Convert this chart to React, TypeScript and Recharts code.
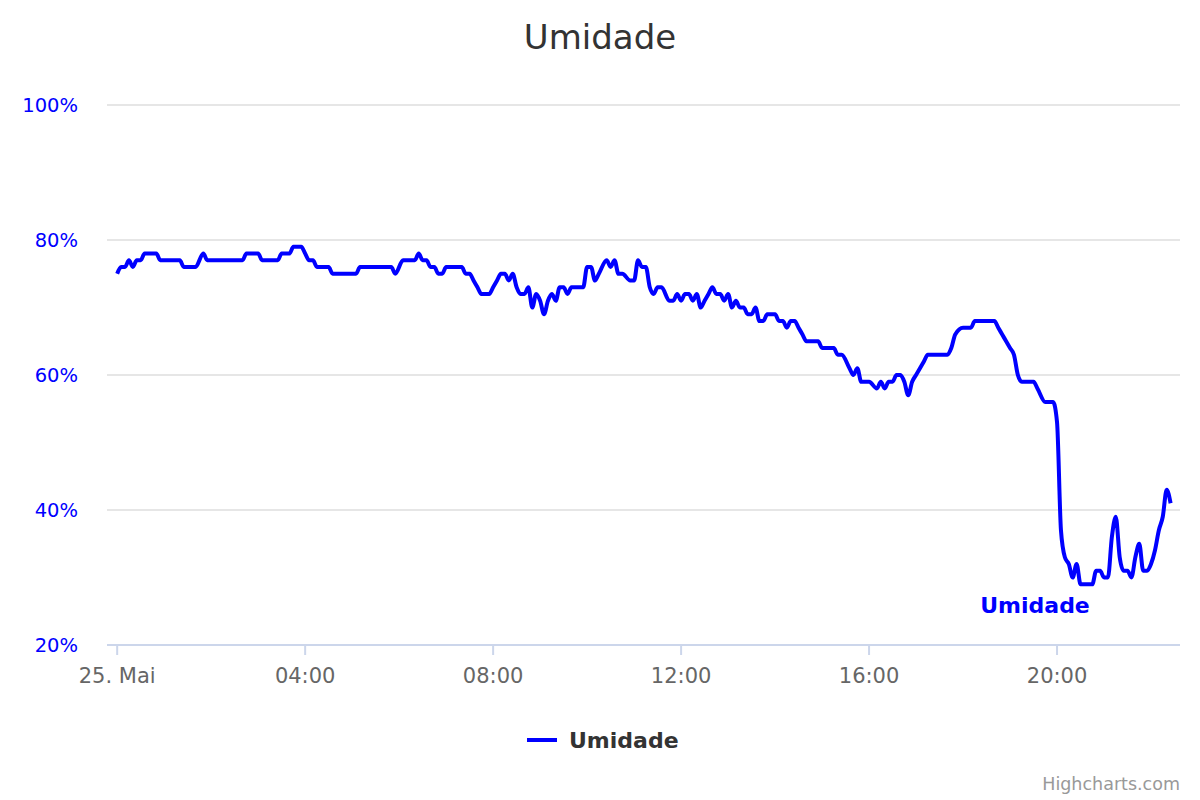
import React from 'react';
import { LineChart, Line, XAxis, YAxis, CartesianGrid } from 'recharts';

// minutes since 25. Mai 00:00
const minutes = [
  0, 5, 10, 15, 20, 25, 30, 35, 50, 55, 80, 85, 100, 110, 115, 160, 165, 180, 185, 205,
  210, 220, 225, 235, 240, 245, 250, 255, 270, 275, 305, 310, 350, 355, 365, 380, 385, 390, 395, 400,
  405, 410, 415, 420, 440, 445, 450, 455, 460, 465, 475, 480, 485, 490, 495, 500, 505, 510, 515, 520,
  525, 530, 535, 540, 545, 550, 555, 560, 565, 570, 575, 580, 595, 600, 605, 610, 615, 625, 630, 635,
  640, 645, 655, 660, 665, 670, 675, 680, 685, 690, 695, 705, 710, 715, 720, 725, 730, 735, 740, 745,
  750, 755, 760, 765, 770, 775, 780, 785, 790, 795, 800, 805, 810, 815, 820, 825, 830, 840, 845, 850,
  855, 860, 865, 870, 875, 880, 895, 900, 915, 920, 925, 935, 940, 945, 950, 960, 970, 975, 980, 985,
  990, 995, 1000, 1005, 1010, 1015, 1020, 1025, 1030, 1035, 1060, 1065, 1070, 1080, 1090, 1095, 1120, 1125, 1130, 1135,
  1140, 1145, 1150, 1155, 1170, 1175, 1185, 1195, 1200, 1205, 1210, 1215, 1220, 1225, 1230, 1245, 1250, 1255, 1260, 1265,
  1270, 1275, 1280, 1285, 1290, 1295, 1300, 1305, 1310, 1315, 1320, 1325, 1330, 1335, 1340, 1345,
];

const humidity = [
  75, 76, 76, 77, 76, 77, 77, 78, 78, 77, 77, 76, 76, 78, 77, 77, 78, 78, 77, 77,
  78, 78, 79, 79, 78, 77, 77, 76, 76, 75, 75, 76, 76, 75, 77, 77, 78, 77, 77, 76,
  76, 75, 75, 76, 76, 75, 75, 74, 73, 72, 72, 73, 74, 75, 75, 74, 75, 73, 72, 72,
  73, 70, 72, 71, 69, 71, 72, 71, 73, 73, 72, 73, 73, 76, 76, 74, 75, 77, 76, 77,
  75, 75, 74, 74, 77, 76, 76, 73, 72, 73, 73, 71, 71, 72, 71, 72, 72, 71, 72, 70,
  71, 72, 73, 72, 72, 71, 72, 70, 71, 70, 70, 69, 69, 70, 68, 68, 69, 69, 68, 68,
  67, 68, 68, 67, 66, 65, 65, 64, 64, 63, 63, 61, 60, 61, 59, 59, 58, 59, 58, 59,
  59, 60, 60, 59, 57, 59, 60, 61, 62, 63, 63, 64, 66, 67, 67, 68, 68, 67, 66, 65,
  64, 63, 60, 59, 59, 58, 56, 56, 53, 37, 33, 32, 30, 32, 29, 29, 31, 31, 30, 30,
  36, 39, 33, 31, 31, 30, 33, 35, 31, 31, 32, 34, 37, 39, 43, 41,
];

const xTicks = [0, 240, 480, 720, 960, 1200];
const yTicks = [20, 40, 60, 80, 100];

const data = minutes.map((t, i) => ({ t, umidade: humidity[i] }));

const pad = (n: number) => String(n).padStart(2, '0');
const fmtTime = (m: number) => (m === 0 ? '25. Mai' : `${pad(Math.floor(m / 60))}:${pad(m % 60)}`);

const BLUE = '#0000ff';

export default function App() {
  return (
    <div style={{ position: 'absolute', left: 0, top: 0, width: 1200, height: 800, background: '#fff', fontFamily: '"DejaVu Sans", sans-serif' }}>
      <LineChart width={1200} height={800} data={data} margin={{ top: 105, right: 20, bottom: 115, left: 0 }}>
        <CartesianGrid vertical={false} stroke="#e6e6e6" strokeWidth={2} />
        <XAxis
          dataKey="t"
          type="number"
          domain={[-13, 1357]}
          ticks={xTicks}
          tickFormatter={fmtTime}
          height={40}
          stroke="#ccd6eb"
          strokeWidth={2}
          tickSize={10}
          tickMargin={13}
          tick={{ fill: '#666666', fontSize: 21 }}
        />
        <YAxis
          domain={[20, 100]}
          ticks={yTicks}
          tickFormatter={(v: number) => `${v}%`}
          width={107}
          axisLine={false}
          tickLine={false}
          tickSize={0}
          tickMargin={29}
          tick={{ fill: BLUE, fontSize: 19.5 }}
        />
        <Line
          type="monotone"
          dataKey="umidade"
          name="Umidade"
          stroke={BLUE}
          strokeWidth={4}
          dot={false}
          isAnimationActive={false}
        />
      </LineChart>
      <svg width={1200} height={800} style={{ position: 'absolute', left: 0, top: 0, pointerEvents: 'none' }}>
        <text x={600} y={49} textAnchor="middle" fontSize={34} fill="#333333">Umidade</text>
        <text x={1035} y={613} textAnchor="middle" fontSize={22} fontWeight="bold" fill={BLUE}>Umidade</text>
        <line x1={527} y1={740} x2={557} y2={740} stroke={BLUE} strokeWidth={4} />
        <text x={569} y={748} fontSize={22} fontWeight="bold" fill="#333333">Umidade</text>
        <text x={1180} y={790} textAnchor="end" fontSize={17.5} fill="#999999">Highcharts.com</text>
      </svg>
    </div>
  );
}
